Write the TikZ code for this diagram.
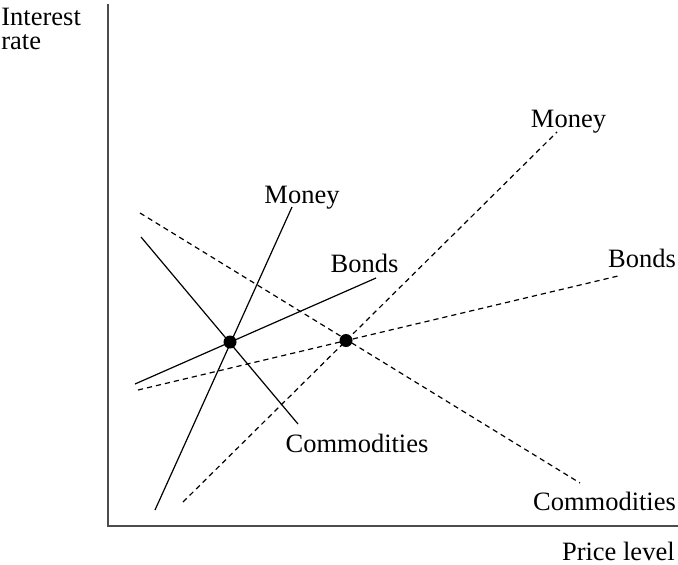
\documentclass[tikz,border=0pt]{standalone}
\usepackage{fontspec}
\setmainfont{Liberation Serif}

\begin{document}
\begin{tikzpicture}[x=0.5pt,y=0.5pt,
    every node/.style={inner sep=0pt,font=\fontsize{13.25}{12}\selectfont},
    axis/.style={line width=0.8pt,draw=black!70},
    curve/.style={line width=0.6pt},
    shifted/.style={curve,dash pattern=on 2.6pt off 2pt},
    eqdot/.style={circle,fill=black,minimum size=6.5pt}]
    \useasboundingbox (0,0) rectangle (678,564);

    \coordinate (o) at (108,38);
    \coordinate (ytop) at (108,560);
    \coordinate (xend) at (678,38);
    \draw[axis] (ytop) -- (o) -- (xend);
    \node[anchor=north west,align=left] (ylab) at (1,556) {Interest\\rate};
    \node[anchor=base east] (xlab) at (675,4) {Price level};

    \coordinate (m1a) at (155,54);
    \coordinate (m1b) at (292,357);
    \coordinate (c1a) at (141,327);
    \coordinate (c1b) at (298,140);
    \coordinate (b1a) at (135,180);
    \coordinate (b1b) at (376,286);
    \draw[curve] (m1a) -- (m1b);
    \draw[curve] (c1a) -- (c1b);
    \draw[curve] (b1a) -- (b1b);
    \node[anchor=base] (m1) at (302,361) {Money};
    \node[anchor=base] (b1) at (364.5,292) {Bonds};
    \node[anchor=base] (c1) at (357,112) {Commodities};

    \coordinate (m2a) at (183,62);
    \coordinate (m2b) at (557,432);
    \coordinate (c2a) at (140,351);
    \coordinate (c2b) at (580,81);
    \coordinate (b2a) at (138,174);
    \coordinate (b2b) at (618,288);
    \draw[shifted] (m2a) -- (m2b);
    \draw[shifted] (c2a) -- (c2b);
    \draw[shifted] (b2a) -- (b2b);
    \node[anchor=base] (m2) at (568.5,437) {Money};
    \node[anchor=base] (b2) at (642,297) {Bonds};
    \node[anchor=base] (c2) at (604.5,54) {Commodities};

    \node[eqdot] (e1) at (230,222) {};
    \node[eqdot] (e2) at (346,223.5) {};
\end{tikzpicture}
\end{document}
